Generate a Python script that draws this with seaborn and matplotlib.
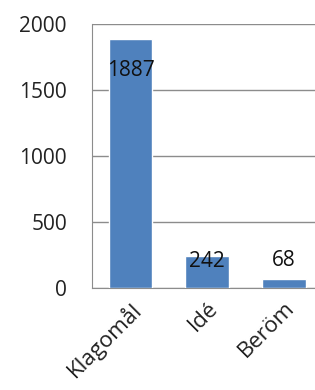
import matplotlib
matplotlib.use("Agg")
import matplotlib.pyplot as plt
import seaborn as sns
import pandas as pd

categories = ["Klagomål", "Idé", "Beröm"]
counts = [1887, 242, 68]
yticks = [0, 500, 1000, 1500, 2000]

sns.set_style("white")
plt.rcParams["font.family"] = ["Open Sans", "DejaVu Sans"]

df = pd.DataFrame({"kategori": categories, "antal": counts})

fig = plt.figure(figsize=(3.15, 3.9), dpi=100)
ax = fig.add_axes([92 / 315, 102 / 390, 1 - 92 / 315, 264 / 390])

sns.barplot(data=df, x="kategori", y="antal", color="#4F81BD", saturation=1,
            width=0.57, ax=ax, zorder=3)

ax.set_ylim(0, 2000)
ax.set_xlim(-0.5, 2.4)
ax.set_yticks(yticks)
ax.set_yticklabels([str(t) for t in yticks], fontsize=15, color="#222222")
ax.yaxis.grid(True, color="#8c8c8c", linewidth=1, zorder=0)
ax.tick_params(axis="y", length=0, pad=18)
ax.tick_params(axis="x", length=0, pad=7)
ax.set_xticks(range(len(categories)))
ax.set_xticklabels(categories, rotation=45, ha="right", rotation_mode="anchor",
                   fontsize=16, color="#222222")
ax.set_xlabel("")
ax.set_ylabel("")
for side in ["top", "right"]:
    ax.spines[side].set_visible(False)
ax.spines["left"].set_color("#8c8c8c")
ax.spines["bottom"].set_color("#8c8c8c")

# label offsets in points, relative to bar tops
offsets = [-23, -4, 13]
for i, (v, off) in enumerate(zip(counts, offsets)):
    ax.annotate(str(v), (i, v), xytext=(0, off), textcoords="offset points",
                ha="center", va="center", fontsize=15, color="#111111", zorder=5)

fig.savefig("out.png", dpi=100)
